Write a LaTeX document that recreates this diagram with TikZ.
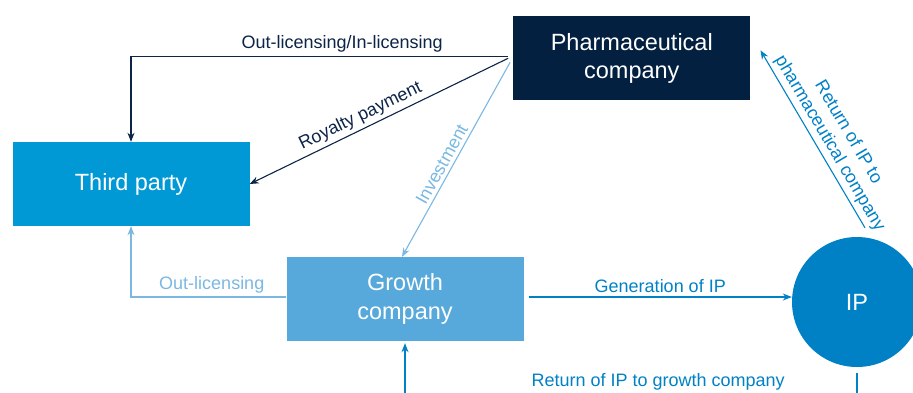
\documentclass[tikz,border=0pt]{standalone}
\usepackage{fontspec}
\setmainfont{Liberation Sans}
\usetikzlibrary{arrows.meta}
\definecolor{pharmanavy}{HTML}{032041}
\definecolor{thirdblue}{HTML}{0099D5}
\definecolor{growthblue}{HTML}{58A9DB}
\definecolor{ipblue}{HTML}{0081C6}
\definecolor{darkline}{HTML}{0C2447}
\definecolor{lightline}{HTML}{7AB8E2}
\tikzset{
  box/.style={minimum width=237pt,minimum height=84pt,inner sep=0pt,text=white,align=center,font=\fontsize{23.5}{28.5}\selectfont},
  lab/.style={font=\fontsize{18}{21.5}\selectfont},
  arr/.style={line width=1.1pt,-{Stealth[length=9pt,width=7pt]}}
}
\begin{document}
\begin{tikzpicture}[x=1pt,y=-1pt]
\useasboundingbox (0,0) rectangle (913,392);
\clip (0,0) rectangle (913,392);
\node[box,fill=pharmanavy] (pharma) at (631.8,58.3) {Pharmaceutical\\company};
\node[box,fill=thirdblue] (third) at (131,184) {Third party};
\node[box,fill=growthblue] (growth) at (405,299) {Growth\\company};
\node[circle,fill=ipblue,minimum size=130pt,inner sep=0pt,text=white,font=\fontsize{23.5}{28.5}\selectfont] (ip) at (857,302) {IP};
\draw[arr,darkline] ([xshift=-5pt,yshift=2pt]pharma.west) -| node[pos=0.22,above,lab,text=darkline]{Out-licensing/In-licensing} (third.north);
\draw[arr,darkline] ([xshift=-5pt]pharma.west) -- node[pos=0.55,sloped,above,lab,text=darkline]{Royalty payment} (third.east);
\draw[arr,lightline] ([xshift=-3pt,yshift=-4pt]pharma.west) -- node[pos=0.55,sloped,above,lab,text=lightline]{Investment} ([xshift=-3pt]growth.north);
\draw[arr,lightline] ([yshift=2pt]growth.west) -| node[pos=0.24,above,lab,text=lightline]{Out-licensing} (third.south);
\draw[arr,ipblue] ([xshift=5pt,yshift=2pt]growth.east) -- node[above,lab,text=ipblue]{Generation of IP} ([yshift=5pt]ip.west);
\draw[arr,ipblue] ([xshift=8pt,yshift=9pt]ip.north) -- node[pos=0.44,sloped,above,lab,align=center,text=ipblue]{Return of IP to\\pharmaceutical company} ([xshift=10pt,yshift=8pt]pharma.east);
\draw[arr,ipblue] ([yshift=-6pt]ip.south) -- ++(0,21) -| node[pos=0.22,above,lab,text=ipblue]{Return of IP to growth company} ([yshift=-2pt]growth.south);
\end{tikzpicture}
\end{document}
